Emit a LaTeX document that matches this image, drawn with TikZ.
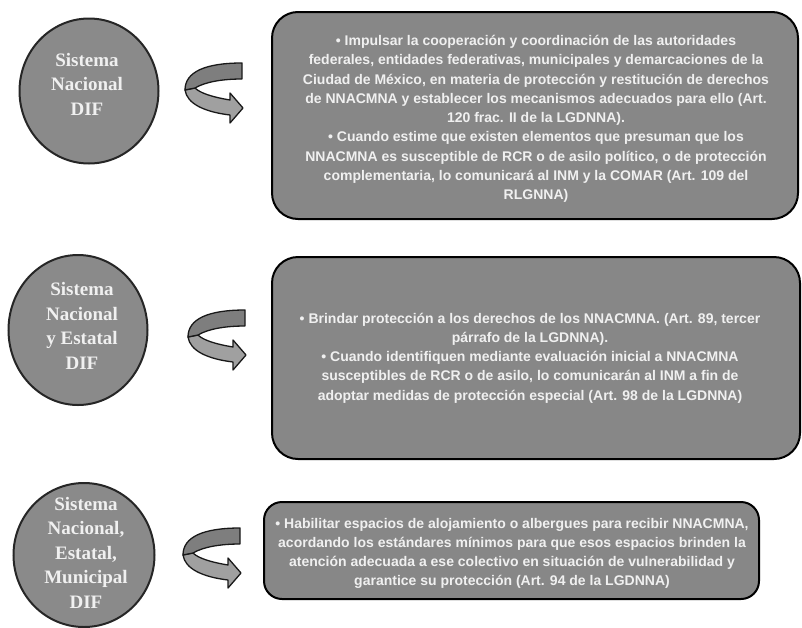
\documentclass[tikz,border=0pt]{standalone}
\usepackage{fontspec}
\setmainfont{Liberation Sans}
\newfontfamily\circfont{Liberation Serif}
\usetikzlibrary{shapes.geometric}
\definecolor{boxgray}{HTML}{878787}
\definecolor{circgray}{HTML}{8A8A8A}
\definecolor{txtw}{HTML}{F0F0F0}
\definecolor{bandA}{HTML}{7E7E7E}
\definecolor{bandB}{HTML}{A0A0A0}
\tikzset{
  infobox/.style={draw=black, line width=2pt, fill=boxgray, rounded corners=26pt},
  infotext/.style={text=txtw, align=center, font=\fontsize{14pt}{19.25pt}\selectfont\bfseries, inner sep=0pt},
  circ/.style={ellipse, draw=black!85, line width=2pt, fill=circgray, inner sep=0pt},
  circtext/.style={text=txtw, align=center, font=\circfont\fontsize{19pt}{24.5pt}\selectfont\bfseries, inner sep=0pt},
  band/.style={draw=black!90, line width=1.3pt, line join=round},
  turnarrow/.pic={
    \fill[band, fill=bandB] (-57,27) .. controls (-55,41) and (-37,49) .. (-12,52) -- (-12,60) -- (1,45) -- (-12,30) -- (-12,37) .. controls (-30,34) and (-42,30) .. (-47,25) -- cycle;
    \fill[band, fill=bandA] (0,0) .. controls (-37,0) and (-57,9) .. (-57,27) -- (-47,25) .. controls (-37,19) and (-20,16) .. (0,16) -- cycle;
  }
}
\begin{document}
\begin{tikzpicture}[x=1pt, y=-1pt]
\useasboundingbox (0,0) rectangle (802,627);

% circles
\node[circ, minimum width=139pt, minimum height=145pt] (c1) at (89,91) {};
\node[circtext] (t1) at (87,84) {Sistema\\Nacional\\DIF};
\node[circ, minimum width=139pt, minimum height=150pt] (c2) at (78,330) {};
\node[circtext] (t2) at (82,326) {Sistema\\Nacional\\y Estatal\\DIF};
\node[circ, minimum width=141pt, minimum height=144pt] (c3) at (84,555) {};
\node[circtext] (t3) at (86,552.5) {Sistema\\Nacional,\\Estatal,\\Municipal\\DIF};

% arrows
\pic at (242,63) {turnarrow};
\pic at (245,310) {turnarrow};
\pic at (240,528) {turnarrow};

% boxes
\node[infobox, minimum width=526pt, minimum height=207pt] (b1) at (535,115.5) {};
\node[infotext] (bt1) at (536,119) {• Impulsar la cooperación y coordinación de las autoridades\\
federales, entidades federativas, municipales y demarcaciones de la\\
Ciudad de México, en materia de protección y restitución de derechos\\
de NNACMNA y establecer los mecanismos adecuados para ello (Art.\\
120 frac. II de la LGDNNA).\\
• Cuando estime que existen elementos que presuman que los\\
NNACMNA es susceptible de RCR o de asilo político, o de protección\\
complementaria, lo comunicará al INM y la COMAR (Art. 109 del\\
RLGNNA)};

\node[infobox, minimum width=528pt, minimum height=202pt] (b2) at (536,358) {};
\node[infotext] (bt2) at (530,358) {• Brindar protección a los derechos de los NNACMNA. (Art. 89, tercer\\
párrafo de la LGDNNA).\\
• Cuando identifiquen mediante evaluación inicial a NNACMNA\\
susceptibles de RCR o de asilo, lo comunicarán al INM a fin de\\
adoptar medidas de protección especial (Art. 98 de la LGDNNA)};

\node[infobox, rounded corners=18pt, minimum width=495pt, minimum height=97pt] (b3) at (511.5,550.5) {};
\node[infotext] (bt3) at (512,553.5) {• Habilitar espacios de alojamiento o albergues para recibir NNACMNA,\\
acordando los estándares mínimos para que esos espacios brinden la\\
atención adecuada a ese colectivo en situación de vulnerabilidad y\\
garantice su protección (Art. 94 de la LGDNNA)};
\end{tikzpicture}
\end{document}
